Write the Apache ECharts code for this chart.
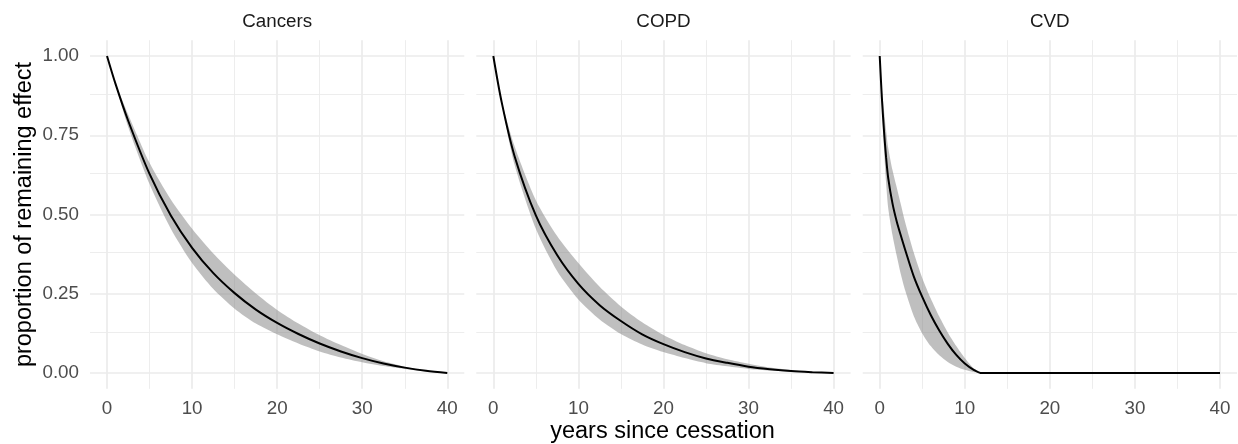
<!DOCTYPE html>
<html>
<head>
<meta charset="utf-8">
<script src="https://cdn.jsdelivr.net/npm/echarts@6/dist/echarts.min.js"></script>
<style>
html,body{margin:0;padding:0;background:#fff;}
#chart{width:1238px;height:444px;}
</style>
</head>
<body>
<div id="chart"></div>
<script>
// ---- data ----
const facetNames = ['Cancers', 'COPD', 'CVD'];
const xTickValues = [0, 10, 20, 30, 40];
const yTickValues = [0, 0.25, 0.5, 0.75, 1];
const xMajorGrid = [0, 10, 20, 30, 40];
const xMinorGrid = [5, 15, 25, 35];
const yMajorGrid = [0, 0.25, 0.5, 0.75, 1];
const yMinorGrid = [0.125, 0.375, 0.625, 0.875];

const cancersYears = [0, 1, 2.5, 5, 7.5, 10, 12.5, 15, 17.5, 20, 22.5, 25, 27.5, 30, 32.5, 35, 37.5, 40];
const cancersMean  = [1, 0.912, 0.795, 0.628, 0.497, 0.395, 0.315, 0.252, 0.200, 0.158, 0.123, 0.093, 0.068, 0.047, 0.030, 0.017, 0.007, 0];
const cancersUpper = [1, 0.915, 0.815, 0.663, 0.547, 0.455, 0.377, 0.310, 0.251, 0.199, 0.156, 0.119, 0.088, 0.060, 0.037, 0.020, 0.008, 0];
const cancersLower = [1, 0.909, 0.775, 0.596, 0.455, 0.347, 0.265, 0.203, 0.156, 0.122, 0.093, 0.068, 0.049, 0.034, 0.022, 0.013, 0.005, 0];

const copdYears = [0, 1, 2.5, 5, 7.5, 10, 12.5, 15, 17.5, 20, 22.5, 25, 27.5, 30, 32.5, 35, 37.5, 40];
const copdMean  = [1, 0.852, 0.684, 0.497, 0.372, 0.281, 0.214, 0.164, 0.122, 0.091, 0.066, 0.046, 0.032, 0.020, 0.012, 0.006, 0.0025, 0];
const copdUpper = [1, 0.857, 0.715, 0.545, 0.432, 0.347, 0.272, 0.210, 0.160, 0.120, 0.088, 0.062, 0.043, 0.029, 0.017, 0.009, 0.004, 0];
const copdLower = [1, 0.847, 0.657, 0.455, 0.322, 0.232, 0.169, 0.123, 0.090, 0.066, 0.047, 0.031, 0.021, 0.013, 0.008, 0.004, 0.0015, 0];

const cvdYears = [0, 0.25, 0.5, 0.75, 1, 1.5, 2, 2.5, 3, 4, 5, 6, 7, 8, 9, 10, 11, 12, 20, 30, 40];
const cvdMean  = [1, 0.87, 0.765, 0.68, 0.615, 0.535, 0.478, 0.432, 0.388, 0.305, 0.24, 0.183, 0.134, 0.092, 0.057, 0.030, 0.011, 0, 0, 0, 0];
const cvdUpper = [1, 0.90, 0.83, 0.765, 0.71, 0.64, 0.585, 0.53, 0.475, 0.38, 0.30, 0.235, 0.178, 0.128, 0.085, 0.047, 0.016, 0, 0, 0, 0];
const cvdLower = [1, 0.85, 0.71, 0.60, 0.52, 0.435, 0.37, 0.31, 0.26, 0.18, 0.125, 0.085, 0.056, 0.035, 0.020, 0.010, 0.003, 0, 0, 0, 0];

const facets = [
  {years: cancersYears, mean: cancersMean, upper: cancersUpper, lower: cancersLower},
  {years: copdYears, mean: copdMean, upper: copdUpper, lower: copdLower},
  {years: cvdYears, mean: cvdMean, upper: cvdUpper, lower: cvdLower}
];

// ---- layout ----
const panelLefts = [90, 476.3, 862.7];
const panelWidth = 374.3;
const panelTop = 40.15;
const panelHeight = 348.7;
const FONT = '"Liberation Sans", Arial, Helvetica, sans-serif';
const GRID_COLOR = '#EBEBEB';
const BAND_COLOR = 'rgba(127,127,127,0.5)';

const chart = echarts.init(document.getElementById('chart'), null, {renderer: 'canvas'});

const grids = [], xAxes = [], yAxes = [], series = [], graphics = [];

facets.forEach((f, i) => {
  grids.push({left: panelLefts[i], top: panelTop, width: panelWidth, height: panelHeight, containLabel: false});
  xAxes.push({
    type: 'value', gridIndex: i, min: -2, max: 42,
    axisLine: {show: false}, axisTick: {show: false}, splitLine: {show: false},
    axisLabel: {customValues: xTickValues, color: '#4D4D4D', fontSize: 18.8, fontFamily: FONT, margin: 10,
                formatter: v => String(v)}
  });
  yAxes.push({
    type: 'value', gridIndex: i, min: -0.05, max: 1.05,
    axisLine: {show: false}, axisTick: {show: false}, splitLine: {show: false},
    axisLabel: i === 0 ? {customValues: yTickValues, color: '#4D4D4D', fontSize: 18.8, fontFamily: FONT, margin: 11,
                           formatter: v => v.toFixed(2)} : {show: false}
  });

  const gridLineData = [];
  xMinorGrid.forEach(v => gridLineData.push({xAxis: v, lineStyle: {width: 0.9, color: GRID_COLOR, type: 'solid'}}));
  yMinorGrid.forEach(v => gridLineData.push({yAxis: v, lineStyle: {width: 0.9, color: GRID_COLOR, type: 'solid'}}));
  xMajorGrid.forEach(v => gridLineData.push({xAxis: v, lineStyle: {width: 1.7, color: GRID_COLOR, type: 'solid'}}));
  yMajorGrid.forEach(v => gridLineData.push({yAxis: v, lineStyle: {width: 1.7, color: GRID_COLOR, type: 'solid'}}));

  // stop the ribbon once it has collapsed to zero width at 0
  let lastIdx = f.years.length - 1;
  for (let k = 1; k < f.years.length; k++) {
    if (f.upper[k] === 0 && f.lower[k] === 0) { lastIdx = k; break; }
  }

  // ribbon as a polygon through the axis scales
  series.push({
    type: 'custom', xAxisIndex: i, yAxisIndex: i, silent: true, z: 2,
    data: [[f.years[0], f.mean[0]]],
    renderItem: (params, api) => {
      const up = [], lo = [];
      for (let k = 0; k <= lastIdx; k++) {
        up.push(api.coord([f.years[k], f.upper[k]]));
        lo.push(api.coord([f.years[k], f.lower[k]]));
      }
      lo.reverse();
      return {
        type: 'polygon',
        shape: {points: up.concat(lo), smooth: 0.25},
        style: {fill: BAND_COLOR, stroke: null}
      };
    }
  });
  // mean line + background grid lines
  series.push({
    type: 'line', xAxisIndex: i, yAxisIndex: i,
    data: f.years.map((x, k) => [x, f.mean[k]]),
    symbol: 'none', smooth: 0.3,
    lineStyle: {color: '#000', width: 2}, silent: true, z: 3,
    markLine: {silent: true, symbol: ['none', 'none'], z: 1, animation: false,
               label: {show: false}, emphasis: {disabled: true}, data: gridLineData}
  });

  graphics.push({
    type: 'text', x: panelLefts[i] + panelWidth / 2, y: 21.7,
    style: {text: facetNames[i], align: 'center', verticalAlign: 'middle', fill: '#1A1A1A', font: '18.8px ' + FONT}
  });
});

graphics.push({
  type: 'text', x: 662.5, y: 432,
  style: {text: 'years since cessation', align: 'center', verticalAlign: 'middle', fill: '#000', font: '23.5px ' + FONT}
});
graphics.push({
  type: 'text', x: 25, y: 214.5, rotation: Math.PI / 2,
  style: {text: 'proportion of remaining effect', align: 'center', verticalAlign: 'middle', fill: '#000', font: '23.5px ' + FONT}
});

chart.setOption({
  animation: false,
  backgroundColor: '#fff',
  grid: grids, xAxis: xAxes, yAxis: yAxes, series: series, graphic: graphics
});
</script>
</body>
</html>
